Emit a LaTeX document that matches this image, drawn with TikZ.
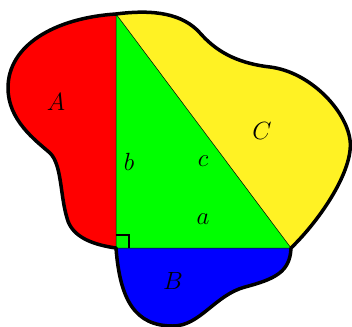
\documentclass[tikz,border=0pt]{standalone}
\usepackage{amsmath}
\usepackage{xcolor}
\usepackage{tikz}
\definecolor{regRed}{HTML}{FF0000}
\definecolor{regGreen}{HTML}{00FF00}
\definecolor{regBlue}{HTML}{0000FF}
\definecolor{regYellow}{HTML}{FFF224}
\begin{document}
\begin{tikzpicture}[x={(1pt,0)}, y={(0,-1pt)},
  font=\Huge,
  outline/.style={line width=3.5pt, line join=round, line cap=round},
  edge/.style={line width=0.5pt},
  lbl/.style={inner sep=0pt}]
\useasboundingbox (0,0) rectangle (352,326);
% corners of the right triangle
\coordinate (T) at (116,14);
\coordinate (R) at (116,248);
\coordinate (S) at (291,248);
% A on leg b
\fill[regRed] (T) .. controls (55,18) and (8,45) .. (8,88)
  .. controls (8,120) and (35,140) .. (50,153)
  .. controls (62,165) and (60,195) .. (67,218)
  .. controls (72,238) and (95,245) .. (R) -- cycle;
% C on hypotenuse c
\fill[regYellow] (T) .. controls (155,9) and (183,14) .. (200,33)
  .. controls (215,50) and (235,63) .. (270,67)
  .. controls (310,72) and (346,110) .. (350,140)
  .. controls (354,170) and (320,220) .. (S) -- cycle;
% B on leg a
\fill[regBlue] (R) .. controls (120,300) and (135,326) .. (173,326)
  .. controls (200,326) and (215,295) .. (245,287)
  .. controls (275,279) and (290,272) .. (S) -- cycle;
% the triangle
\fill[regGreen] (T) -- (R) -- (S) -- cycle;
\draw[edge] (T) -- (R) -- (S) -- cycle;
% right angle
\draw[line width=2.4pt] (116,235) -- (129,235) -- (129,248);
% outer boundary
\draw[outline] (T) .. controls (55,18) and (8,45) .. (8,88)
  .. controls (8,120) and (35,140) .. (50,153)
  .. controls (62,165) and (60,195) .. (67,218)
  .. controls (72,238) and (95,245) .. (R);
\draw[outline] (T) .. controls (155,9) and (183,14) .. (200,33)
  .. controls (215,50) and (235,63) .. (270,67)
  .. controls (310,72) and (346,110) .. (350,140)
  .. controls (354,170) and (320,220) .. (S);
\draw[outline] (R) .. controls (120,300) and (135,326) .. (173,326)
  .. controls (200,326) and (215,295) .. (245,287)
  .. controls (275,279) and (290,272) .. (S);
% labels
\node[lbl] (labA) at (56,102) {$A$};
\node[lbl] (labB) at (173,281) {$B$};
\node[lbl] (labC) at (262,131) {$C$};
\node[lbl] (laba) at (203,219) {$a$};
\node[lbl] (labb) at (129,162) {$b$};
\node[lbl] (labc) at (203,161) {$c$};
\end{tikzpicture}
\end{document}
